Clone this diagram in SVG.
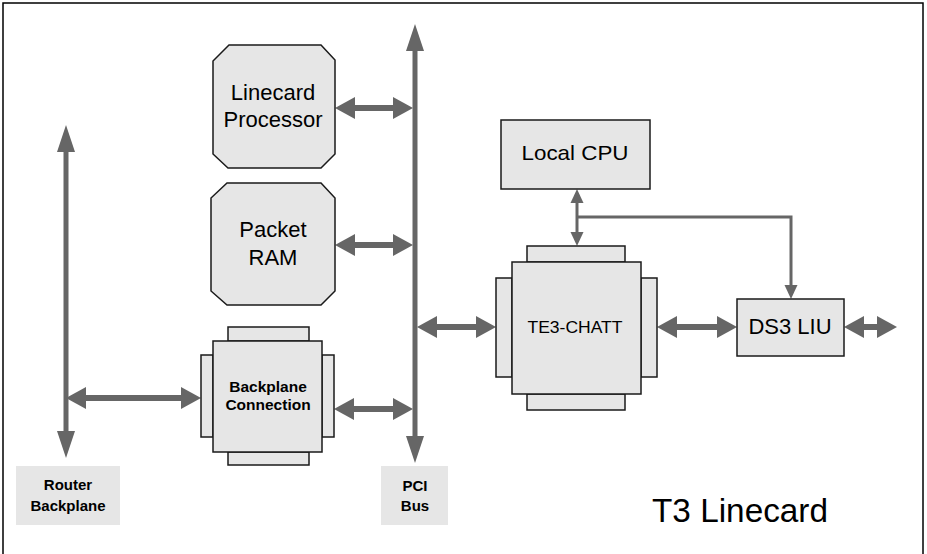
<svg xmlns="http://www.w3.org/2000/svg" width="927" height="554" viewBox="0 0 927 554">
<style>
.box{fill:#e6e6e6;stroke:#1a1a1a;stroke-width:1.5}
.lbl{fill:#e6e6e6;stroke:none}
.t{font-family:"Liberation Sans",Arial,sans-serif;fill:#000;text-anchor:middle}
.b{font-weight:bold}
.w{stroke:#666;fill:none;stroke-width:6}
.bus{stroke:#666;fill:none;stroke-width:5}
.thin{stroke:#666;fill:none;stroke-width:3}
</style>
<defs>
<marker id="big" markerUnits="userSpaceOnUse" markerWidth="22" markerHeight="24" viewBox="0 -12 22 24" refX="0" refY="0" orient="auto-start-reverse"><path d="M0,-11 L20,0 L0,11 z" fill="#666"/></marker>
<marker id="busH" markerUnits="userSpaceOnUse" markerWidth="30" markerHeight="20" viewBox="0 -10 30 20" refX="0" refY="0" orient="auto-start-reverse"><path d="M0,-9 L27,0 L0,9 z" fill="#666"/></marker>
<marker id="sm" markerUnits="userSpaceOnUse" markerWidth="16" markerHeight="16" viewBox="0 -8 16 16" refX="0" refY="0" orient="auto-start-reverse"><path d="M0,-6.5 L14,0 L0,6.5 z" fill="#666"/></marker>
</defs>
<rect x="3" y="3" width="920" height="560" fill="#fff" stroke="#000" stroke-width="1.5"/>
<g id="connectors">
<line class="bus" x1="415" y1="51" x2="415" y2="436" marker-start="url(#busH)" marker-end="url(#busH)"/>
<line class="bus" x1="66" y1="152" x2="66" y2="431" marker-start="url(#busH)" marker-end="url(#busH)"/>
<line class="w" x1="86" y1="398" x2="181" y2="398" marker-start="url(#big)" marker-end="url(#big)"/>
<line class="w" x1="355" y1="108" x2="393" y2="108" marker-start="url(#big)" marker-end="url(#big)"/>
<line class="w" x1="355" y1="245" x2="393" y2="245" marker-start="url(#big)" marker-end="url(#big)"/>
<line class="w" x1="354" y1="409" x2="393" y2="409" marker-start="url(#big)" marker-end="url(#big)"/>
<line class="w" x1="437" y1="327" x2="476" y2="327" marker-start="url(#big)" marker-end="url(#big)"/>
<line class="w" x1="677" y1="327" x2="717" y2="327" marker-start="url(#big)" marker-end="url(#big)"/>
<line class="w" x1="864" y1="327" x2="877" y2="327" marker-start="url(#big)" marker-end="url(#big)"/>
<line class="thin" x1="577" y1="203" x2="577" y2="232" marker-start="url(#sm)" marker-end="url(#sm)"/>
<polyline class="thin" points="577,217 791,217 791,285" marker-end="url(#sm)"/>
</g>
<g id="linecard-processor">
<polygon class="box" points="229,45 321,45 335,60 335,154 321,168 228,168 213,154 213,61"/>
<text class="t" x="273" y="100" font-size="22">Linecard</text>
<text class="t" x="273" y="127" font-size="22">Processor</text>
</g>
<g id="packet-ram">
<polygon class="box" points="227,183 321,183 335,198 335,291 321,305 227,305 211,291 211,198"/>
<text class="t" x="273" y="237" font-size="22">Packet</text>
<text class="t" x="273" y="265" font-size="22">RAM</text>
</g>
<g id="backplane-connection">
<rect class="box" x="228" y="327" width="81" height="14"/>
<rect class="box" x="228" y="452" width="81" height="13"/>
<rect class="box" x="201" y="355" width="12" height="82"/>
<rect class="box" x="322" y="355" width="12" height="82"/>
<rect class="box" x="213" y="341" width="109" height="111"/>
<text class="t b" x="268" y="392" font-size="15.5">Backplane</text>
<text class="t b" x="268" y="410" font-size="15.5">Connection</text>
</g>
<g id="local-cpu">
<rect class="box" x="501" y="120" width="149" height="69"/>
<text class="t" x="575" y="160" font-size="21" textLength="107" lengthAdjust="spacingAndGlyphs">Local CPU</text>
</g>
<g id="te3-chatt">
<rect class="box" x="527" y="246" width="98" height="16"/>
<rect class="box" x="527" y="394" width="98" height="16"/>
<rect class="box" x="496" y="278" width="16" height="99"/>
<rect class="box" x="641" y="278" width="16" height="99"/>
<rect class="box" x="512" y="262" width="129" height="132"/>
<text class="t" x="575" y="333" font-size="17" textLength="95" lengthAdjust="spacingAndGlyphs">TE3-CHATT</text>
</g>
<g id="ds3-liu">
<rect class="box" x="737" y="299" width="107" height="57"/>
<text class="t" x="790" y="334" font-size="22">DS3 LIU</text>
</g>
<g id="router-backplane">
<rect class="lbl" x="16" y="466" width="104" height="59"/>
<text class="t b" x="68" y="490" font-size="15">Router</text>
<text class="t b" x="68" y="511" font-size="15">Backplane</text>
</g>
<g id="pci-bus">
<rect class="lbl" x="381" y="466" width="67" height="59"/>
<text class="t b" x="415" y="491" font-size="15">PCI</text>
<text class="t b" x="415" y="511" font-size="15">Bus</text>
</g>
<g id="title">
<text class="t" x="740" y="522" font-size="34" textLength="176" lengthAdjust="spacingAndGlyphs">T3 Linecard</text>
</g>
</svg>
